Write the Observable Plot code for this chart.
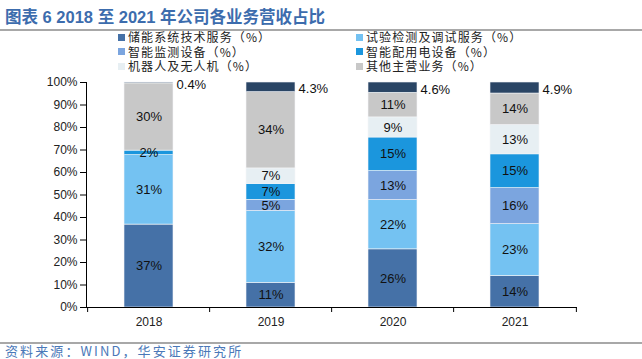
<!DOCTYPE html>
<html><head><meta charset="utf-8">
<script src="https://cdn.jsdelivr.net/npm/d3@7"></script>
<script src="https://cdn.jsdelivr.net/npm/@observablehq/plot@0.6"></script>
<style>
body{margin:0;background:#fff;}
#wrap{position:relative;width:642px;height:359px;overflow:hidden;font-family:"Liberation Sans","Noto Sans CJK SC",sans-serif;background:#fff;}
#title{position:absolute;left:5px;top:4px;font-size:16.5px;font-weight:bold;color:#3c6cad;white-space:nowrap;font-family:"Liberation Sans","Noto Sans CJK SC",sans-serif;}
.hr{position:absolute;left:0;width:642px;height:2px;background:#a8a8a8;}
.li{position:absolute;font-family:"Noto Sans CJK SC",sans-serif;font-size:12px;line-height:12px;height:12px;color:#222;white-space:nowrap;display:flex;align-items:center;letter-spacing:1.1px;}
.li span{line-height:12px;}
.sw{width:7px;height:7px;margin-right:3px;}
#chart{position:absolute;left:0;top:75px;}
#caption{position:absolute;left:5px;top:344px;font-size:13px;line-height:14px;color:#4a78b8;font-family:"Noto Sans CJK SC",sans-serif;letter-spacing:2.1px;white-space:nowrap;}
</style>
</head><body>
<div id="wrap">
  <div id="title">图表 6 2018 至 2021 年公司各业务营收占比</div>
  <div class="hr" style="top:29px"></div>
  <div id="legend"></div>
  <div id="chart"></div>
  <div class="hr" style="top:342px"></div>
  <div id="caption">资料来源：WIND，华安证券研究所</div>
</div>
<script>
const years = ["2018", "2019", "2020", "2021"];
const seriesNames = ["储能系统技术服务（%）", "试验检测及调试服务（%）", "智能监测设备（%）", "智能配用电设备（%）", "机器人及无人机（%）", "其他主营业务（%）", "未列示"];
const TOP = "未列示";
const colors = ["#4571a7", "#74c2f2", "#7ba5df", "#1b96dd", "#e7eff3", "#c8c8c8", "#2a4565"];
const storage   = [37, 11, 26, 14];
const testing   = [31, 32, 22, 23];
const monitor   = [0, 5, 13, 16];
const distrib   = [2, 7, 15, 15];
const robots    = [0, 7, 9, 13];
const otherMain = [30, 34, 11, 14];
const topSeg    = [0.4, 4.3, 4.6, 4.9];
const yTicks = [0, 10, 20, 30, 40, 50, 60, 70, 80, 90, 100];

const seriesValues = [storage, testing, monitor, distrib, robots, otherMain, topSeg];
const rows = [];
seriesValues.forEach((vals, i) => years.forEach((y, j) => rows.push({year: y, s: seriesNames[i], v: vals[j]})));

// legend
const legend = document.getElementById("legend");
const legendCols = [118, 356], legendRows = [31, 45.5, 60];
seriesNames.slice(0, 6).forEach((name, i) => {
  const el = document.createElement("div");
  el.className = "li";
  el.style.left = legendCols[i % 2] + "px";
  el.style.top = legendRows[Math.floor(i / 2)] + "px";
  el.innerHTML = `<span class="sw" style="background:${colors[i]}"></span><span>${name}</span>`;
  legend.appendChild(el);
});

const W = 642, H = 260, mL = 86, mR = 65, mT = 7, mB = 28;
const step = (W - mL - mR) / years.length;
const stackOpts = {x: "year", y: "v", z: "s", order: seriesNames, offset: "normalize"};

const plot = Plot.plot({
  width: W, height: H, marginLeft: mL, marginRight: mR, marginTop: mT, marginBottom: mB,
  style: {fontFamily: "Liberation Sans, Arial, sans-serif", fontSize: "12px", color: "#222", background: "white"},
  x: {domain: years, paddingInner: 0.6, paddingOuter: 0.3, label: null},
  y: {domain: [0, 1], label: null},
  color: {domain: seriesNames, range: colors},
  marks: [
    Plot.barY(rows, Plot.stackY({...stackOpts, fill: "s", stroke: "#f4f6f8", strokeWidth: 0.6})),
    Plot.text(rows, Plot.stackY({...stackOpts, text: d => (d.s !== TOP && d.v > 0) ? d.v + "%" : null, fontSize: 13, fill: "#111"})),
    Plot.text(rows, Plot.stackY({...stackOpts, text: d => d.s === TOP ? d.v + "%" : null, fontSize: 13, fill: "#111", textAnchor: "start", dx: step * 0.2 + 3, dy: 2})),
    Plot.axisY({ticks: yTicks.map(t => t / 100), tickFormat: d => Math.round(d * 100) + "%", tickSize: 6, tickPadding: 3, label: null, stroke: "#000"}),
    Plot.axisX({tickSize: 0, tickPadding: 10, label: null}),
    Plot.axisX({tickSize: 5, tickFormat: () => "", dx: -step / 2, label: null, stroke: "#000"}),
    Plot.axisX([years[years.length - 1]], {tickSize: 5, tickFormat: () => "", dx: step / 2, label: null, stroke: "#000"}),
    Plot.ruleY([0], {stroke: "#000"}),
    Plot.frame({anchor: "left", stroke: "#000"})
  ]
});
document.getElementById("chart").appendChild(plot);
</script>
</body></html>
